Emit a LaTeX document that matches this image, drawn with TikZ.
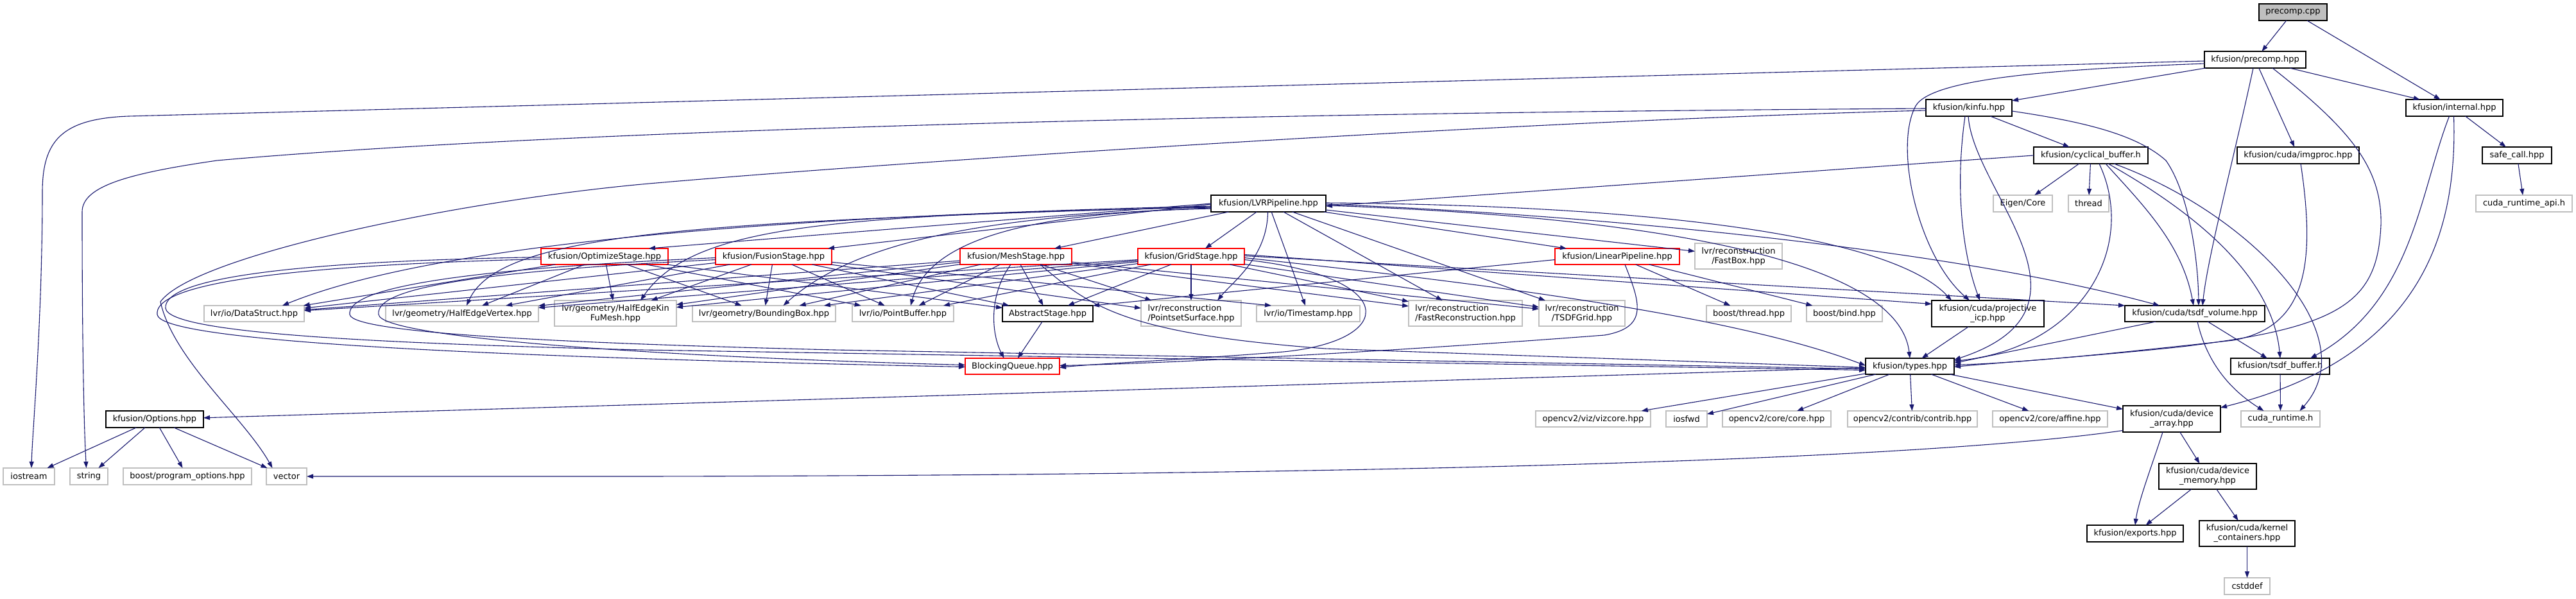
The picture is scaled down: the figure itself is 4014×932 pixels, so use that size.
\documentclass[tikz,border=0pt]{standalone}
\usepackage{fontspec}
\setmainfont{DejaVu Sans}
\usetikzlibrary{arrows.meta,calc}
\definecolor{edgec}{RGB}{25,25,112}
\definecolor{gray75}{RGB}{191,191,191}
\tikzset{
  nbase/.style={draw, inner sep=0pt, outer sep=0pt, line width=1.2pt, fill=white, align=center, font=\fontsize{13}{15}\selectfont},
  nblk/.style={nbase, draw=black},
  nred/.style={nbase, draw=red},
  next/.style={nbase, draw=gray75},
  nextl/.style={nbase, draw=gray75, align=left},
  nroot/.style={nbase, draw=black, fill=gray75},
  dep/.style={draw=edgec, line width=1.1pt, -{Triangle[length=10pt,width=7pt]}}
}
\newcommand{\mkn}[7]{%
  \pgfmathsetmacro\mkw{#4-#3}\pgfmathsetmacro\mkh{#6-#5}%
  \node[#2, minimum width=\mkw pt, minimum height=\mkh pt] (#1) at ({(#3+#4)/2},{(#5+#6)/2}) {#7};}
\begin{document}
\begin{tikzpicture}[x=1pt,y=-1pt]
\fill[white] (0,0) rectangle (4014,932);
\useasboundingbox (0,0) rectangle (4014,932);
% nodes
\mkn{cpp}{nroot}{3520}{3626}{6}{32}{precomp.cpp}
\mkn{phpp}{nblk}{3435}{3593}{80}{106}{kfusion/precomp.hpp}
\mkn{kinfu}{nblk}{3001}{3135}{155}{181}{kfusion/kinfu.hpp}
\mkn{internal}{nblk}{3749}{3900}{155}{181}{kfusion/internal.hpp}
\mkn{cyc}{nblk}{3169}{3347}{229}{255}{kfusion/cyclical\_buffer.h}
\mkn{imgproc}{nblk}{3486}{3676}{229}{255}{kfusion/cuda/imgproc.hpp}
\mkn{safecall}{nblk}{3868}{3976}{229}{255}{safe\_call.hpp}
\mkn{eigen}{next}{3106}{3198}{304}{330}{Eigen/Core}
\mkn{thread}{next}{3223}{3286}{304}{330}{thread}
\mkn{cudaapi}{next}{3858}{4008}{304}{330}{cuda\_runtime\_api.h}
\mkn{lvrp}{nblk}{1887}{2066}{304}{330}{kfusion/LVRPipeline.hpp}
\mkn{optim}{nred}{843}{1041}{387}{412}{kfusion/OptimizeStage.hpp}
\mkn{fusion}{nred}{1115}{1296}{387}{412}{kfusion/FusionStage.hpp}
\mkn{mesh}{nred}{1496}{1670}{387}{412}{kfusion/MeshStage.hpp}
\mkn{grid}{nred}{1773}{1939}{387}{412}{kfusion/GridStage.hpp}
\mkn{linear}{nred}{2423}{2617}{387}{412}{kfusion/LinearPipeline.hpp}
\mkn{fastbox}{next}{2641}{2777}{379}{419}{lvr/reconstruction\\/FastBox.hpp}
\mkn{datastruct}{next}{318}{474}{476}{501}{lvr/io/DataStruct.hpp}
\mkn{hev}{next}{601}{839}{476}{501}{lvr/geometry/HalfEdgeVertex.hpp}
\mkn{hekm}{next}{864}{1054}{468}{508}{lvr/geometry/HalfEdgeKin\\FuMesh.hpp}
\mkn{bbox}{next}{1079}{1302}{476}{501}{lvr/geometry/BoundingBox.hpp}
\mkn{pbuf}{next}{1328}{1486}{476}{501}{lvr/io/PointBuffer.hpp}
\mkn{abstract}{nblk}{1562}{1703}{476}{501}{AbstractStage.hpp}
\mkn{pss}{nextl}{1778}{1934}{468}{508}{lvr/reconstruction\\/PointsetSurface.hpp}
\mkn{tstamp}{next}{1958}{2119}{476}{501}{lvr/io/Timestamp.hpp}
\mkn{fastrec}{nextl}{2195}{2372}{468}{508}{lvr/reconstruction\\/FastReconstruction.hpp}
\mkn{tsdfgrid}{next}{2398}{2532}{468}{508}{lvr/reconstruction\\/TSDFGrid.hpp}
\mkn{bthread}{next}{2659}{2791}{476}{501}{boost/thread.hpp}
\mkn{bbind}{next}{2815}{2933}{476}{501}{boost/bind.hpp}
\mkn{picp}{nblk}{3010}{3185}{468}{509}{kfusion/cuda/projective\\\_icp.hpp}
\mkn{tsdfvol}{nblk}{3311}{3529}{476}{501}{kfusion/cuda/tsdf\_volume.hpp}
\mkn{bq}{nred}{1504}{1651}{558}{583}{BlockingQueue.hpp}
\mkn{types}{nblk}{2907}{3045}{558}{583}{kfusion/types.hpp}
\mkn{tsdfbuf}{nblk}{3476}{3630}{558}{583}{kfusion/tsdf\_buffer.h}
\mkn{viz}{next}{2393}{2572}{640}{665}{opencv2/viz/vizcore.hpp}
\mkn{iosfwd}{next}{2596}{2660}{640}{665}{iosfwd}
\mkn{core}{next}{2684}{2853}{640}{665}{opencv2/core/core.hpp}
\mkn{contrib}{next}{2879}{3081}{640}{665}{opencv2/contrib/contrib.hpp}
\mkn{affine}{next}{3105}{3284}{640}{665}{opencv2/core/affine.hpp}
\mkn{devarr}{nblk}{3308}{3460}{632}{673}{kfusion/cuda/device\\\_array.hpp}
\mkn{cudart}{next}{3492}{3615}{640}{665}{cuda\_runtime.h}
\mkn{options}{nblk}{165}{317}{640}{666}{kfusion/Options.hpp}
\mkn{iostream}{next}{5}{85}{729}{755}{iostream}
\mkn{string}{next}{109}{168}{729}{755}{string}
\mkn{progopt}{next}{192}{392}{729}{755}{boost/program\_options.hpp}
\mkn{vector}{next}{415}{478}{729}{755}{vector}
\mkn{devmem}{nblk}{3364}{3516}{722}{762}{kfusion/cuda/device\\\_memory.hpp}
\mkn{exports}{nblk}{3252}{3402}{818}{844}{kfusion/exports.hpp}
\mkn{kcont}{nblk}{3427}{3576}{811}{851}{kfusion/cuda/kernel\\\_containers.hpp}
\mkn{cstddef}{next}{3466}{3537}{900}{926}{cstddef}
% ---- edges: top part
\draw[dep] (cpp) -- (phpp);
\draw[dep] (cpp) -- (internal);
\draw[dep] (phpp) -- (kinfu);
\draw[dep] (phpp) -- (internal);
\draw[dep] (phpp) -- (imgproc);
\draw[dep] ([xshift=-3pt]phpp.south) .. controls (3480,250) and (3440,400) .. ([xshift=12pt]tsdfvol.north);
\draw[dep] ([yshift=-6pt]phpp.west) .. controls (3200,108) and (3010,122) .. (2985,165) .. controls (2950,230) and (2990,400) .. ([xshift=59pt]picp.north west);
\draw[dep] ([xshift=27pt]phpp.south) .. controls (3660,200) and (3712,260) .. (3710,350) .. controls (3705,470) and (3650,510) .. (3400,540) .. controls (3250,556) and (3100,566) .. ([yshift=-1pt]types.east);
\draw[dep] ([yshift=-2pt]phpp.west) -- (200,181) .. controls (95,185) and (66,220) .. (66,300) .. controls (66,500) and (50,680) .. ([xshift=4pt]iostream.north);
\draw[dep] (kinfu) -- (cyc);
\draw[dep] ([xshift=-6pt]kinfu.south) .. controls (3045,300) and (3060,400) .. ([xshift=75pt]picp.north west);
\draw[dep] ([xshift=-1pt]kinfu.south) .. controls (3075,300) and (3290,480) .. ([yshift=10pt]types.east);
\draw[dep] ([yshift=-5pt]kinfu.east) .. controls (3250,190) and (3330,210) .. (3375,250) .. controls (3410,300) and (3425,400) .. ([xshift=6pt]tsdfvol.north);
\draw[dep] ([yshift=-1pt]kinfu.west) .. controls (2000,175) and (900,200) .. (338,250) .. controls (200,270) and (128,290) .. (128,330) .. controls (128,500) and (130,650) .. ([xshift=-4pt]string.north);
\draw[dep] ([yshift=-4pt]kinfu.west) .. controls (2300,190) and (1300,260) .. (1000,287) .. controls (700,315) and (300,400) .. (250,470) .. controls (270,560) and (380,650) .. ([xshift=-22pt]vector.north);
\draw[dep] (internal) -- (safecall);
\draw[dep] (safecall) -- (cudaapi);
\draw[dep] ([xshift=-8pt]internal.south) .. controls (3770,300) and (3760,470) .. ([xshift=47pt]tsdfbuf.north);
\draw[dep] ([xshift=-1pt]internal.south) .. controls (3830,380) and (3760,560) .. ([yshift=-3pt]devarr.north east);
\draw[dep] ([xshift=4pt]imgproc.south) .. controls (3610,420) and (3590,510) .. (3480,530) .. controls (3300,550) and (3150,565) .. ([yshift=2pt]types.east);
\draw[dep] (cyc.west) -- ([yshift=-4pt]lvrp.east);
\draw[dep] (cyc) -- (eigen);
\draw[dep] (cyc) -- (thread);
\draw[dep] ([xshift=13pt]cyc.south) .. controls (3330,380) and (3250,540) .. ([yshift=8pt]types.east);
\draw[dep] ([xshift=23pt]cyc.south) .. controls (3340,320) and (3400,380) .. ([xshift=-2pt]tsdfvol.north);
\draw[dep] ([xshift=27pt]cyc.south) .. controls (3400,320) and (3540,420) .. (tsdfbuf.north);
\draw[dep] ([xshift=36pt]cyc.south) .. controls (3500,330) and (3690,520) .. ([xshift=30pt]cudart.north);
\draw[dep] (tsdfvol) -- ([yshift=5pt]types.east);
\draw[dep] (tsdfvol) -- (tsdfbuf);
\draw[dep] ([xshift=4pt]tsdfvol.south) .. controls (3440,570) and (3480,610) .. ([xshift=-26pt]cudart.north);
\draw[dep] (tsdfbuf) -- (cudart);
\draw[dep] (picp) -- (types);
% ---- types and below
\draw[dep] (types) -- (options);
\draw[dep] (types) -- (viz);
\draw[dep] (types) -- (iosfwd);
\draw[dep] (types) -- (core);
\draw[dep] (types) -- (contrib);
\draw[dep] (types) -- (affine);
\draw[dep] (types) -- (devarr);
\draw[dep] ([yshift=-18pt]devarr.west) .. controls (3000,715) and (2200,740) .. (1000,742) -- (vector.east);
\draw[dep] ([xshift=-14pt]devarr.south) .. controls (3355,720) and (3332,780) .. (exports.north);
\draw[dep] (devarr) -- (devmem);
\draw[dep] (devmem) -- (exports);
\draw[dep] (devmem) -- (kcont);
\draw[dep] (kcont) -- (cstddef);
\draw[dep] (options) -- (iostream);
\draw[dep] (options) -- (string);
\draw[dep] (options) -- (progopt);
\draw[dep] (options) -- (vector);
% ---- LVRPipeline
\draw[dep] (lvrp.west) -- ([xshift=-30pt]optim.north east);
\draw[dep] ([yshift=-1pt]lvrp.west) -- ([xshift=-6pt]fusion.north east);
\draw[dep] (lvrp) -- ([xshift=-27pt]mesh.north east);
\draw[dep] (lvrp) -- ([xshift=22pt]grid.north);
\draw[dep] (lvrp) -- ([xshift=18pt]linear.north west);
\draw[dep] (lvrp) -- (fastbox);
\draw[dep] ([xshift=-1pt]lvrp.south) .. controls (1975,400) and (1920,440) .. ([xshift=41pt]pss.north);
\draw[dep] (lvrp) -- (tstamp);
\draw[dep] (lvrp) -- (fastrec);
\draw[dep] (lvrp) -- (tsdfgrid);
\draw[dep] ([yshift=-3pt]lvrp.east) .. controls (2650,340) and (2960,420) .. (types.north);
\draw[dep] ([yshift=1pt]lvrp.east) .. controls (2600,320) and (2950,370) .. ([xshift=31pt]picp.north west);
\draw[dep] ([yshift=-1pt]lvrp.east) .. controls (2500,335) and (3050,390) .. ([xshift=54pt]tsdfvol.north west);
\draw[dep] ([yshift=-4pt]lvrp.west) .. controls (1300,335) and (700,370) .. ([xshift=-34pt]datastruct.north east);
\draw[dep] ([yshift=-5pt]lvrp.west) .. controls (1100,345) and (780,360) .. ([xshift=7pt]hev.north);
\draw[dep] ([yshift=-6pt]lvrp.west) .. controls (1300,335) and (1080,350) .. ([xshift=39pt]hekm.north);
\draw[dep] ([yshift=-7pt]lvrp.west) .. controls (1600,335) and (1350,360) .. ([xshift=30pt]bbox.north);
\draw[dep] ([yshift=-8pt]lvrp.west) .. controls (1650,330) and (1450,360) .. ([xshift=12pt]pbuf.north);
% ---- LinearPipeline
\draw[dep] ([yshift=-5pt]linear.west) -- (abstract.north east);
\draw[dep] (linear) -- (bthread);
\draw[dep] (linear) -- (bbind);
\draw[dep] ([xshift=12pt]linear.south) .. controls (2555,470) and (2570,510) .. (2500,522) .. controls (2200,545) and (1850,565) .. ([yshift=1pt]bq.east);
\draw[dep] (abstract) -- (bq);
% ---- GridStage
\draw[dep] (grid) -- (abstract);
\draw[dep] (grid) -- (pss);
\draw[dep] (grid) -- (fastrec);
\draw[dep] (grid) -- (tsdfgrid);
\draw[dep] ([yshift=3pt]grid.east) -- ([yshift=15pt]picp.west);
\draw[dep] ([yshift=1pt]grid.east) -- (tsdfvol.north west);
\draw[dep] ([yshift=-2pt]grid.east) .. controls (2300,440) and (2700,490) .. ([yshift=1pt]types.west);
\draw[dep] ([yshift=-5pt]grid.east) .. controls (2180,430) and (2180,530) .. (2000,548) .. controls (1850,560) and (1700,567) .. ([yshift=-2pt]bq.east);
\draw[dep] (grid) -- (datastruct);
\draw[dep] (grid) -- (hev);
\draw[dep] (grid) -- (hekm);
\draw[dep] (grid) -- (bbox);
\draw[dep] (grid) -- (pbuf);
% ---- MeshStage
\draw[dep] (mesh) -- (datastruct);
\draw[dep] (mesh) -- (hev);
\draw[dep] (mesh) -- (hekm);
\draw[dep] (mesh) -- (bbox);
\draw[dep] (mesh) -- (pbuf);
\draw[dep] (mesh) -- (abstract);
\draw[dep] ([xshift=-8pt]mesh.south) .. controls (1540,460) and (1545,520) .. ([xshift=-13pt]bq.north);
\draw[dep] (mesh) -- (pss);
\draw[dep] (mesh) -- (fastrec);
\draw[dep] (mesh) -- (tsdfgrid);
\draw[dep] ([xshift=38pt]mesh.south) .. controls (1700,480) and (1760,520) .. (2065,543) .. controls (2400,555) and (2700,565) .. ([yshift=-2pt]types.west);
% ---- FusionStage
\draw[dep] (fusion) -- (datastruct);
\draw[dep] (fusion) -- (hev);
\draw[dep] (fusion) -- (hekm);
\draw[dep] (fusion) -- (bbox);
\draw[dep] (fusion) -- (pbuf);
\draw[dep] (fusion) -- (abstract);
\draw[dep] (fusion) -- ([xshift=23pt]tstamp.north west);
\draw[dep] (fusion) -- ([yshift=8pt]pss.west);
\draw[dep] ([yshift=-2pt]fusion.west) .. controls (700,420) and (540,450) .. (545,490) .. controls (550,520) and (900,535) .. (1300,545) -- ([yshift=-4pt]types.west);
\draw[dep] ([yshift=-5pt]fusion.west) .. controls (690,425) and (585,455) .. (590,490) .. controls (595,525) and (1000,555) .. ([yshift=2pt]bq.west);
% ---- OptimizeStage
\draw[dep] (optim) -- (datastruct);
\draw[dep] (optim) -- (hev);
\draw[dep] (optim) -- (hekm);
\draw[dep] (optim) -- (bbox);
\draw[dep] (optim) -- (pbuf);
\draw[dep] (optim) -- (abstract);
\draw[dep] ([yshift=-1pt]optim.west) .. controls (400,408) and (255,440) .. (258,480) .. controls (262,520) and (600,535) .. (1000,545) -- ([yshift=-6pt]types.west);
\draw[dep] ([yshift=-4pt]optim.west) .. controls (380,415) and (240,450) .. (245,490) .. controls (250,530) and (700,555) .. ([yshift=-1pt]bq.west);
\end{tikzpicture}
\end{document}
